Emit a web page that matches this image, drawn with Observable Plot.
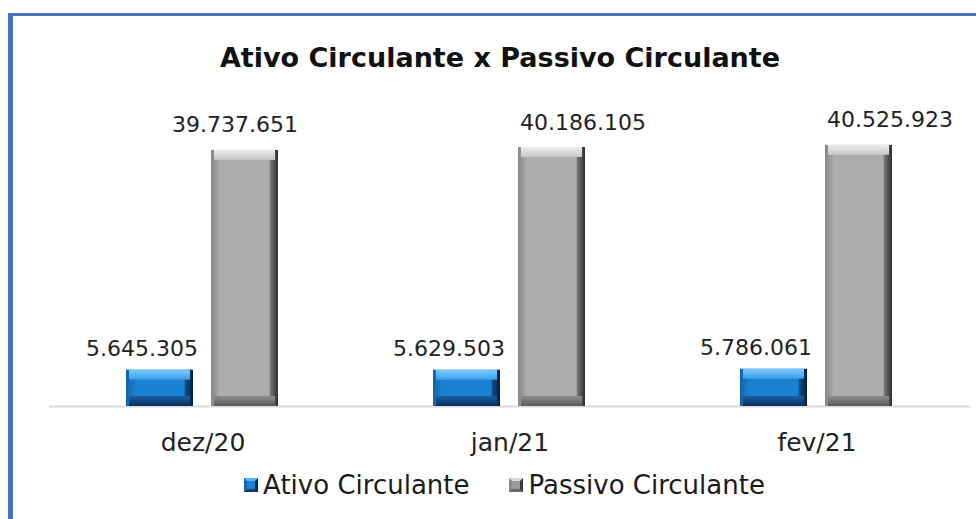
<!DOCTYPE html>
<html>
<head>
<meta charset="utf-8">
<script src="https://cdn.jsdelivr.net/npm/d3@7"></script>
<script src="https://cdn.jsdelivr.net/npm/@observablehq/plot@0.6"></script>
<style>
  html, body { margin: 0; padding: 0; background: #fff; overflow: hidden; width: 976px; height: 519px; }
  #wrap { position: relative; width: 976px; height: 519px; font-family: "DejaVu Sans", sans-serif; color: #1a1a1a; }
  #frame { position: absolute; left: 8px; top: 13px; width: 1000px; height: 600px;
           border-left: 5px solid #4472C4; border-top: 3px solid #4472C4; box-sizing: border-box; }
  #title { position: absolute; left: 0; width: 1000px; top: 42px; text-align: center;
           font-weight: bold; font-size: 27px; color: #111; }
  #chart { position: absolute; left: 0; top: 0; }
  #legend { position: absolute; left: 0; width: 1009px; top: 470px; display: flex; justify-content: center;
            align-items: center; font-size: 26px; color: #1a1a1a; }
  .item { display: flex; align-items: center; margin: 0 20px; }
  .sw { width: 14px; height: 14px; box-sizing: border-box; margin-right: 5px; border: 3px solid; }
  .sw.a { background: #1a80d2; border-color: #5ab4ff #0b2d55 #0e3d73 #1565b0; }
  .sw.p { background: #9a9a9a; border-color: #d8d8d8 #3a3a3a #6a6a6a #8a8a8a; }
</style>
</head>
<body>
<div id="wrap">
  <div id="frame"></div>
  <div id="chart"></div>
  <div id="title">Ativo Circulante x Passivo Circulante</div>
  <div id="legend"></div>
</div>
<script>
// ---- data ----
const months = ["dez/20", "jan/21", "fev/21"];
const seriesNames = ["Ativo Circulante", "Passivo Circulante"];
const ativo = [5645305, 5629503, 5786061];
const passivo = [39737651, 40186105, 40525923];

const fmt = d3.formatLocale({decimal: ",", thousands: ".", grouping: [3], currency: ["", ""]}).format(",d");

const data = months.flatMap((m, i) => [
  {month: m, series: seriesNames[0], value: ativo[i]},
  {month: m, series: seriesNames[1], value: passivo[i]}
]);

const palettes = [
  {id: "a", outerL: "#1462aa", innerL: "#1c7ccc", face: "#1a80d2", innerR: "#0e548f", outerR: "#061d38",
   top1: "#7ccaff", top2: "#3a9eea", bot1: "#1660a8", bot2: "#0a2e58"},
  {id: "p", outerL: "#868686", innerL: "#a8a8a8", face: "#adadad", innerR: "#7a7a7a", outerR: "#2e2e2e",
   top1: "#eeeeee", top2: "#c6c6c6", bot1: "#8e8e8e", bot2: "#5a5a5a"}
];

const marks = [Plot.ruleY([0], {stroke: "#d9d9d9", strokeWidth: 2})];
seriesNames.forEach((s, k) => {
  const pal = palettes[k];
  const sub = data.filter(d => d.series === s);
  marks.push(Plot.barY(sub, {fx: "month", x: "series", y: "value", fill: `url(#h-${pal.id})`}));
  marks.push(Plot.barY(sub, {fx: "month", x: "series", y1: d => d.value, y2: d => d.value,
    insetBottom: -10, insetLeft: 3, insetRight: 3, fill: `url(#t-${pal.id})`}));
  marks.push(Plot.barY(sub, {fx: "month", x: "series", y1: d => 0, y2: d => 0,
    insetTop: -10, insetLeft: 3, insetRight: 3, fill: `url(#b-${pal.id})`}));
});

const textOpts = {fx: "month", x: "series", y: "value", text: d => fmt(d.value), fontSize: 22, fill: "#222"};
marks.push(Plot.text(data.filter(d => d.series === seriesNames[0]), {...textOpts, dx: -18, dy: -21}));
marks.push(Plot.text(data.filter(d => d.series === seriesNames[1] && d.month === months[0]), {...textOpts, dx: -10, dy: -25}));
marks.push(Plot.text(data.filter(d => d.series === seriesNames[1] && d.month !== months[0]), {...textOpts, dx: 31, dy: -25}));

const chart = Plot.plot({
  width: 976,
  height: 470,
  marginTop: 116,
  marginBottom: 64,
  marginLeft: 48,
  marginRight: 6,
  style: {background: "none", fontFamily: "DejaVu Sans, sans-serif", fontSize: "25px", color: "#222"},
  fx: {domain: months, padding: 0, axis: "bottom", label: null, tickSize: 0, tickPadding: 27},
  x: {domain: seriesNames, axis: null, paddingInner: 0.21, paddingOuter: 0.89},
  y: {domain: [0, 45000000], axis: null},
  marks
});

// gradient definitions for the bevelled bars
const svg = d3.select(chart.tagName.toLowerCase() === "svg" ? chart : chart.querySelector("svg"));
const defs = svg.insert("defs", ":first-child");
palettes.forEach(p => {
  const h = defs.append("linearGradient").attr("id", `h-${p.id}`).attr("x1", 0).attr("x2", 1).attr("y1", 0).attr("y2", 0);
  [[0, p.outerL], [0.12, p.innerL], [0.13, p.face], [0.87, p.face], [0.88, p.innerR], [1, p.outerR]]
    .forEach(([o, c]) => h.append("stop").attr("offset", o).attr("stop-color", c));
  const t = defs.append("linearGradient").attr("id", `t-${p.id}`).attr("x1", 0).attr("x2", 0).attr("y1", 0).attr("y2", 1);
  [[0, p.top1], [1, p.top2]].forEach(([o, c]) => t.append("stop").attr("offset", o).attr("stop-color", c));
  const b = defs.append("linearGradient").attr("id", `b-${p.id}`).attr("x1", 0).attr("x2", 0).attr("y1", 0).attr("y2", 1);
  [[0, p.bot1], [1, p.bot2]].forEach(([o, c]) => b.append("stop").attr("offset", o).attr("stop-color", c));
});

document.getElementById("chart").appendChild(chart);

// legend
const legend = document.getElementById("legend");
seriesNames.forEach((s, k) => {
  const item = document.createElement("div");
  item.className = "item";
  const sw = document.createElement("div");
  sw.className = "sw " + palettes[k].id;
  const label = document.createElement("span");
  label.textContent = s;
  item.appendChild(sw);
  item.appendChild(label);
  legend.appendChild(item);
});
</script>
</body>
</html>
